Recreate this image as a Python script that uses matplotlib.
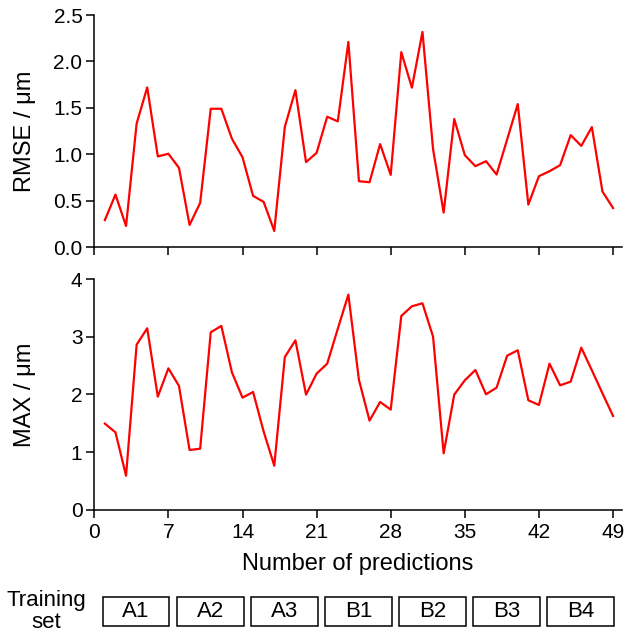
import matplotlib
matplotlib.use("Agg")
import matplotlib.pyplot as plt
from matplotlib.patches import Rectangle
from matplotlib.transforms import blended_transform_factory

plt.rcParams['font.family'] = ['Liberation Sans', 'DejaVu Sans']

# prediction number 1..49
n_pred = list(range(1, 50))

rmse = [0.29, 0.565, 0.227, 1.33, 1.72, 0.976, 1.005, 0.853, 0.238, 0.475,
        1.49, 1.49, 1.167, 0.968, 0.551, 0.486, 0.173, 1.296, 1.69, 0.915,
        1.015, 1.404, 1.354, 2.21, 0.709, 0.698, 1.109, 0.778, 2.10, 1.717,
        2.318, 1.055, 0.371, 1.379, 0.99, 0.871, 0.925, 0.781, 1.16, 1.54,
        0.457, 0.763, 0.817, 0.882, 1.206, 1.09, 1.292, 0.598, 0.42]

max_err = [1.494, 1.343, 0.59, 2.865, 3.149, 1.962, 2.454, 2.148, 1.036, 1.059,
           3.08, 3.19, 2.385, 1.945, 2.043, 1.355, 0.764, 2.651, 2.94, 1.997,
           2.362, 2.535, 3.14, 3.734, 2.252, 1.546, 1.87, 1.737, 3.363, 3.531,
           3.583, 3.004, 0.978, 1.997, 2.246, 2.425, 2.003, 2.119, 2.674, 2.767,
           1.899, 1.818, 2.535, 2.159, 2.223, 2.813, 2.42, 2.02, 1.627]

xticks = [0, 7, 14, 21, 28, 35, 42, 49]
training_sets = ['A1', 'A2', 'A3', 'B1', 'B2', 'B3', 'B4']
set_size = 7

fig = plt.figure(figsize=(6.24, 6.36), dpi=100)
ax1 = fig.add_axes([0.1511, 0.6116, 0.8449, 0.3648])
ax2 = fig.add_axes([0.1511, 0.1986, 0.8449, 0.3623])

for ax in (ax1, ax2):
    ax.spines['top'].set_visible(False)
    ax.spines['right'].set_visible(False)
    ax.spines['left'].set_linewidth(1.1)
    ax.spines['bottom'].set_linewidth(1.1)
    ax.tick_params(direction='out', length=5.5, width=1.1, labelsize=15, pad=3)
    ax.tick_params(axis='x', pad=4)
    ax.set_xlim(0, 49.8)
    ax.set_xticks(xticks)

ax1.plot(n_pred, rmse, color='red', lw=1.6)
ax1.set_ylim(0, 2.5)
ax1.set_yticks([0, 0.5, 1.0, 1.5, 2.0, 2.5])
ax1.set_yticklabels(['0.0', '0.5', '1.0', '1.5', '2.0', '2.5'])
ax1.tick_params(axis='x', labelbottom=False)
ax1.set_ylabel('RMSE / μm', fontsize=17)
ax1.yaxis.set_label_coords(-0.11, 0.5)

ax2.plot(n_pred, max_err, color='red', lw=1.6)
ax2.set_ylim(0, 4)
ax2.set_yticks([0, 1, 2, 3, 4])
ax2.set_ylabel('MAX / μm', fontsize=17)
ax2.yaxis.set_label_coords(-0.11, 0.5)
ax2.set_xlabel('Number of predictions', fontsize=17, labelpad=8)

# training set boxes under the x axis
trans = blended_transform_factory(ax2.transData, fig.transFigure)
for i, name in enumerate(training_sets):
    x0 = i * set_size + 0.8
    rect = Rectangle((x0, 0.0162), 6.3, 0.0447, transform=trans,
                     fill=False, edgecolor='black', lw=1.1, clip_on=False)
    ax2.add_patch(rect)
    ax2.text(x0 + 3.15, 0.0162 + 0.0447 / 2, name, transform=trans,
             ha='center', va='center', fontsize=16)

fig.text(0.074, 0.038, 'Training\nset', ha='center', va='center',
         fontsize=16, linespacing=1.05)

fig.savefig('out.png', dpi=100)
